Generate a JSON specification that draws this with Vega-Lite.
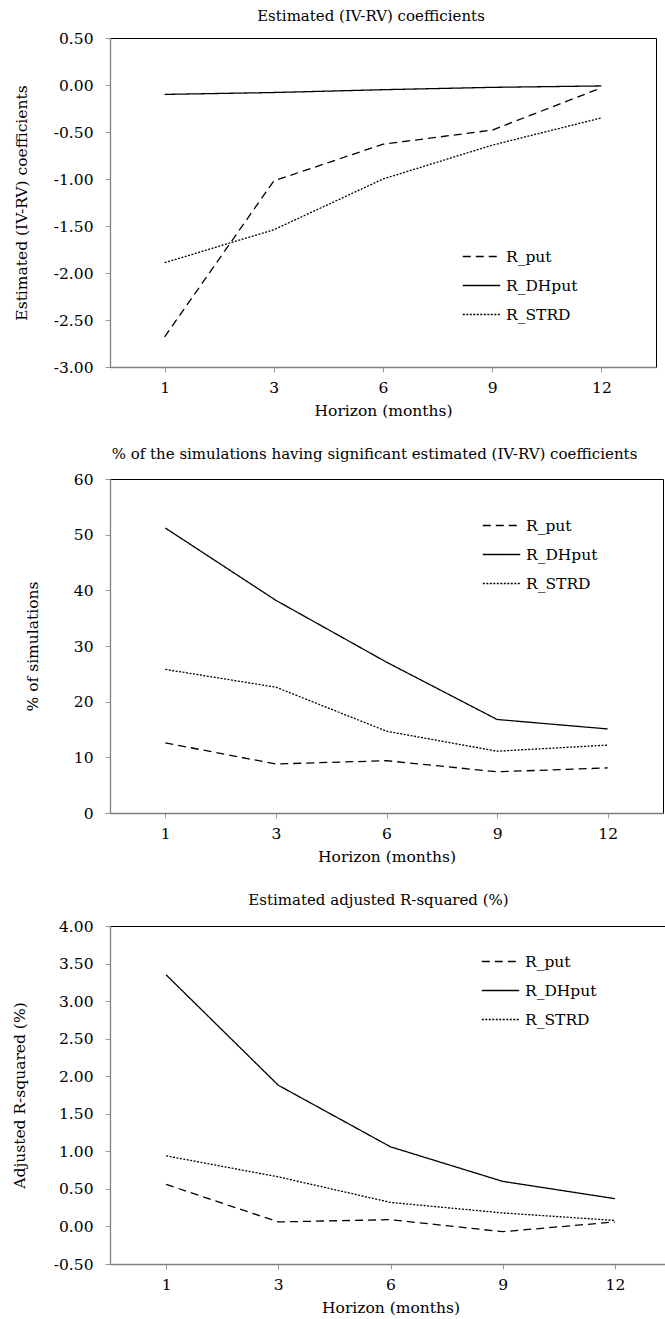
{
  "$schema": "https://vega.github.io/schema/vega-lite/v6.json",
  "background": "white",
  "padding": {"left": 11, "top": 8, "right": 0, "bottom": 0},
  "spacing": 26,
  "resolve": {"legend": {"strokeDash": "independent"}, "scale": {"strokeDash": "independent"}},
  "config": {
    "font": "DejaVu Serif",
    "view": {"stroke": "black", "strokeWidth": 1},
    "title": {"font": "DejaVu Serif", "fontSize": 15, "fontWeight": "normal", "color": "black", "anchor": "middle", "frame": "group", "dx": -12},
    "axis": {
      "grid": false,
      "labelFont": "DejaVu Serif", "labelFontSize": 15.5, "labelColor": "black",
      "titleFont": "DejaVu Serif", "titleFontSize": 15.5, "titleFontWeight": "normal", "titleColor": "black",
      "domainColor": "#7f7f7f", "domainWidth": 1.3, "tickColor": "#9a9a9a", "tickSize": 5
    },
    "axisX": {"labelAngle": 0, "labelPadding": 8, "titlePadding": 8},
    "axisY": {"labelPadding": 12},
    "legend": {
      "orient": "none", "title": null, "symbolType": "stroke", "symbolStrokeColor": "black",
      "symbolStrokeWidth": 1.3, "symbolSize": 1400, "rowPadding": 1,
      "labelFont": "DejaVu Serif", "labelFontSize": 15.5, "labelColor": "black", "labelOffset": 5
    }
  },
  "datasets": {
    "coef": [
      {"h": 1, "series": "R_put", "value": -2.68},
      {"h": 3, "series": "R_put", "value": -1.02},
      {"h": 6, "series": "R_put", "value": -0.63},
      {"h": 9, "series": "R_put", "value": -0.48},
      {"h": 12, "series": "R_put", "value": -0.03},
      {"h": 1, "series": "R_DHput", "value": -0.10},
      {"h": 3, "series": "R_DHput", "value": -0.08},
      {"h": 6, "series": "R_DHput", "value": -0.05},
      {"h": 9, "series": "R_DHput", "value": -0.025},
      {"h": 12, "series": "R_DHput", "value": -0.01},
      {"h": 1, "series": "R_STRD", "value": -1.89},
      {"h": 3, "series": "R_STRD", "value": -1.54},
      {"h": 6, "series": "R_STRD", "value": -1.00},
      {"h": 9, "series": "R_STRD", "value": -0.64},
      {"h": 12, "series": "R_STRD", "value": -0.35}
    ],
    "sig": [
      {"h": 1, "series": "R_put", "value": 12.6},
      {"h": 3, "series": "R_put", "value": 8.8},
      {"h": 6, "series": "R_put", "value": 9.4},
      {"h": 9, "series": "R_put", "value": 7.4},
      {"h": 12, "series": "R_put", "value": 8.1},
      {"h": 1, "series": "R_DHput", "value": 51.2},
      {"h": 3, "series": "R_DHput", "value": 38.2},
      {"h": 6, "series": "R_DHput", "value": 27.1},
      {"h": 9, "series": "R_DHput", "value": 16.8},
      {"h": 12, "series": "R_DHput", "value": 15.1},
      {"h": 1, "series": "R_STRD", "value": 25.8},
      {"h": 3, "series": "R_STRD", "value": 22.6},
      {"h": 6, "series": "R_STRD", "value": 14.7},
      {"h": 9, "series": "R_STRD", "value": 11.1},
      {"h": 12, "series": "R_STRD", "value": 12.2}
    ],
    "r2": [
      {"h": 1, "series": "R_put", "value": 0.56},
      {"h": 3, "series": "R_put", "value": 0.06},
      {"h": 6, "series": "R_put", "value": 0.09},
      {"h": 9, "series": "R_put", "value": -0.07},
      {"h": 12, "series": "R_put", "value": 0.06},
      {"h": 1, "series": "R_DHput", "value": 3.35},
      {"h": 3, "series": "R_DHput", "value": 1.88},
      {"h": 6, "series": "R_DHput", "value": 1.06},
      {"h": 9, "series": "R_DHput", "value": 0.60},
      {"h": 12, "series": "R_DHput", "value": 0.37},
      {"h": 1, "series": "R_STRD", "value": 0.94},
      {"h": 3, "series": "R_STRD", "value": 0.66},
      {"h": 6, "series": "R_STRD", "value": 0.32},
      {"h": 9, "series": "R_STRD", "value": 0.18},
      {"h": 12, "series": "R_STRD", "value": 0.08}
    ]
  },
  "vconcat": [
    {
      "title": {"text": "Estimated (IV-RV) coefficients", "offset": 7},
      "width": 546, "height": 329,
      "data": {"name": "coef"},
      "mark": {"type": "line", "color": "black", "strokeWidth": 1.3},
      "encoding": {
        "x": {"field": "h", "type": "ordinal", "title": "Horizon (months)", "scale": {"type": "point", "padding": 0.5}},
        "y": {"field": "value", "type": "quantitative", "title": "Estimated (IV-RV) coefficients",
              "scale": {"domain": [-3, 0.5], "nice": false, "zero": false},
              "axis": {"values": [-3, -2.5, -2, -1.5, -1, -0.5, 0, 0.5], "labelExpr": "replace(format(datum.value, '.2f'), '−', '-')", "titlePadding": 24}},
        "strokeDash": {"field": "series", "type": "nominal",
          "scale": {"domain": ["R_put", "R_DHput", "R_STRD"], "range": [[8, 5], [1, 0], [2, 1.5]]},
          "legend": {"legendX": 352, "legendY": 199}}
      }
    },
    {
      "title": {"text": "% of the simulations having significant estimated (IV-RV) coefficients", "offset": 10},
      "width": 553, "height": 334,
      "data": {"name": "sig"},
      "mark": {"type": "line", "color": "black", "strokeWidth": 1.3},
      "encoding": {
        "x": {"field": "h", "type": "ordinal", "title": "Horizon (months)", "scale": {"type": "point", "padding": 0.5}},
        "y": {"field": "value", "type": "quantitative", "title": "% of simulations",
              "scale": {"domain": [0, 60], "nice": false},
              "axis": {"values": [0, 10, 20, 30, 40, 50, 60], "titlePadding": 33}},
        "strokeDash": {"field": "series", "type": "nominal",
          "scale": {"domain": ["R_put", "R_DHput", "R_STRD"], "range": [[8, 5], [1, 0], [2, 1.5]]},
          "legend": {"legendX": 372, "legendY": 27}}
      }
    },
    {
      "title": {"text": "Estimated adjusted R-squared (%)", "offset": 11},
      "width": 561, "height": 338,
      "data": {"name": "r2"},
      "mark": {"type": "line", "color": "black", "strokeWidth": 1.3},
      "encoding": {
        "x": {"field": "h", "type": "ordinal", "title": "Horizon (months)", "scale": {"type": "point", "padding": 0.5}},
        "y": {"field": "value", "type": "quantitative", "title": "Adjusted R-squared (%)",
              "scale": {"domain": [-0.5, 4], "nice": false, "zero": false},
              "axis": {"values": [-0.5, 0, 0.5, 1, 1.5, 2, 2.5, 3, 3.5, 4], "labelExpr": "replace(format(datum.value, '.2f'), '−', '-')", "titlePadding": 26}},
        "strokeDash": {"field": "series", "type": "nominal",
          "scale": {"domain": ["R_put", "R_DHput", "R_STRD"], "range": [[8, 5], [1, 0], [2, 1.5]]},
          "legend": {"legendX": 371, "legendY": 16}}
      }
    }
  ]
}
